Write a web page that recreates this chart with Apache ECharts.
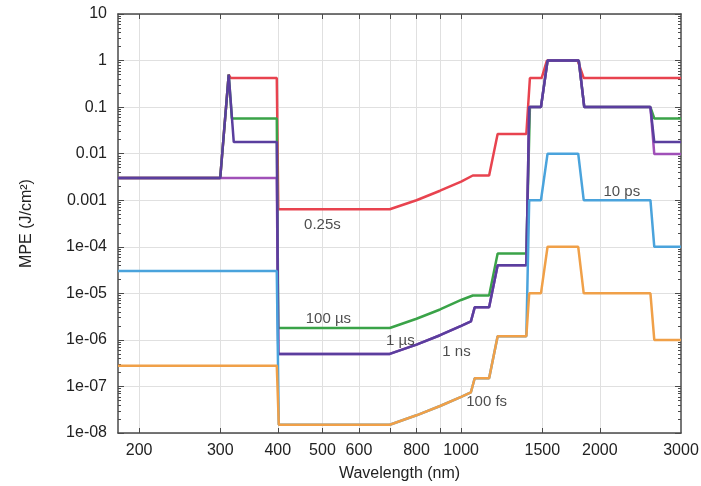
<!DOCTYPE html>
<html>
<head>
<meta charset="utf-8">
<script src="https://cdn.jsdelivr.net/npm/echarts@6/dist/echarts.min.js"></script>
<style>
  html, body { margin: 0; padding: 0; background: #fff; }
  #chart { width: 701px; height: 486px; }
</style>
</head>
<body>
<div id="chart"></div>
<script>
// MPE curves, [wavelength nm, J/cm2]
const mpe025s = [
  [180, 0.003], [300, 0.003], [313, 0.5], [316, 0.42], [398, 0.42], [401, 0.00064],
  [700, 0.00064], [800, 0.001], [900, 0.0016], [1000, 0.0025], [1060, 0.0034],
  [1150, 0.0034], [1200, 0.0265], [1385, 0.0265], [1410, 0.42], [1495, 0.42],
  [1535, 1], [1790, 1], [1845, 0.42], [3000, 0.42]
];
const mpe100us = [
  [180, 0.003], [300, 0.003], [313, 0.5], [318, 0.057], [398, 0.057], [401, 1.8e-6],
  [700, 1.8e-6], [800, 2.85e-6], [900, 4.5e-6], [1000, 7.2e-6], [1060, 9e-6],
  [1150, 9e-6], [1200, 7.2e-5], [1385, 7.2e-5], [1410, 0.1], [1490, 0.1],
  [1540, 1], [1800, 1], [1850, 0.1], [2575, 0.1], [2625, 0.057], [3000, 0.057]
];
const mpe1us = [
  [180, 0.003], [300, 0.003], [313, 0.5], [321, 0.0177], [398, 0.0177], [401, 5e-7],
  [700, 5e-7], [800, 7.9e-7], [900, 1.26e-6], [1000, 2e-6], [1050, 2.5e-6],
  [1070, 5e-6], [1150, 5e-6], [1200, 4e-5], [1385, 4e-5], [1405, 0.1], [1490, 0.1],
  [1540, 1], [1800, 1], [1850, 0.1], [2575, 0.1], [2625, 0.0177], [3000, 0.0177]
];
const mpe1ns = [
  [180, 0.003], [398, 0.003], [401, 5e-7],
  [700, 5e-7], [800, 7.9e-7], [900, 1.26e-6], [1000, 2e-6], [1050, 2.5e-6],
  [1070, 5e-6], [1150, 5e-6], [1200, 4e-5], [1385, 4e-5], [1405, 0.1], [1490, 0.1],
  [1540, 1], [1800, 1], [1850, 0.1], [2575, 0.1], [2625, 0.0098], [3000, 0.0098]
];
const mpe10ps = [
  [180, 3e-5], [398, 3e-5], [402, 1.5e-8], [700, 1.5e-8], [800, 2.4e-8], [900, 3.8e-8],
  [1000, 6e-8], [1050, 7.5e-8], [1070, 1.5e-7], [1150, 1.5e-7], [1200, 1.2e-6],
  [1385, 1.2e-6], [1405, 0.001], [1490, 0.001], [1540, 0.01], [1795, 0.01],
  [1845, 0.001], [2575, 0.001], [2625, 1e-4], [3000, 1e-4]
];
const mpe100fs = [
  [180, 2.8e-7], [398, 2.8e-7], [402, 1.5e-8], [700, 1.5e-8], [800, 2.4e-8], [900, 3.8e-8],
  [1000, 6e-8], [1050, 7.5e-8], [1070, 1.5e-7], [1150, 1.5e-7], [1200, 1.2e-6],
  [1385, 1.2e-6], [1405, 1e-5], [1490, 1e-5], [1540, 1e-4], [1795, 1e-4],
  [1845, 1e-5], [2575, 1e-5], [2625, 1e-6], [3000, 1e-6]
];

// curve annotations: [wavelength, value, text]
const curveLabels = [
  [500, 2.97e-4, '0.25s'],
  [515, 2.85e-6, '100 µs'],
  [738, 9.6e-7, '1 µs'],
  [977, 5.6e-7, '1 ns'],
  [1136, 4.7e-8, '100 fs'],
  [2232, 1.51e-3, '10 ps']
];

const xTicks = [200, 300, 400, 500, 600, 700, 800, 900, 1000, 1500, 2000];
const xLabels = [200, 300, 400, 500, 600, 800, 1000, 1500, 2000, 3000];
const yTicks = [1e-8, 1e-7, 1e-6, 1e-5, 1e-4, 0.001, 0.01, 0.1, 1, 10];
const yMinor = [];
for (let e = -8; e < 1; e++) {
  for (let m = 2; m <= 9; m++) yMinor.push(m * Math.pow(10, e));
}

const AXIS_COLOR = '#4a4a4a';
const TEXT_COLOR = '#222';
const FONT = 'Liberation Sans';

function yFmt(v) {
  const n = Math.round(Math.log10(v));
  if (n >= 0) return String(Math.pow(10, n));
  if (n >= -3) return Math.pow(10, n).toFixed(-n);
  return '1e-' + String(-n).padStart(2, '0');
}

const chart = echarts.init(document.getElementById('chart'));

const baseY = {
  type: 'log', logBase: 10, min: 1e-8, max: 10,
  axisLine: { show: true, lineStyle: { color: AXIS_COLOR, width: 1.5 } },
  axisLabel: { show: false },
  splitLine: { show: false }
};

function line(name, data, color) {
  return {
    name, type: 'line', data, xAxisIndex: 0, yAxisIndex: 0,
    symbol: 'none', lineStyle: { color, width: 2.5 }, itemStyle: { color },
    silent: true
  };
}

chart.setOption({
  animation: false,
  textStyle: { fontFamily: FONT },
  grid: { left: 118, right: 20, top: 14, bottom: 53, outerBoundsMode: 'none', containLabel: false },
  xAxis: [
    {
      type: 'log', logBase: 10, min: 180, max: 3000, position: 'bottom',
      name: 'Wavelength (nm)', nameLocation: 'middle', nameGap: 33,
      nameTextStyle: { fontSize: 16, color: TEXT_COLOR, fontFamily: FONT },
      axisLine: { lineStyle: { color: AXIS_COLOR, width: 1.5 } },
      axisTick: { inside: true, length: 5, customValues: xTicks, lineStyle: { color: AXIS_COLOR } },
      axisLabel: {
        customValues: xLabels, fontSize: 16, color: TEXT_COLOR, margin: 10,
        formatter: v => String(Math.round(v))
      },
      splitLine: { show: true, lineStyle: { color: '#e0e0e0', width: 1 } }
    },
    {
      type: 'log', logBase: 10, min: 180, max: 3000, position: 'top',
      axisLine: { lineStyle: { color: AXIS_COLOR, width: 1.5 } },
      axisTick: { inside: true, length: 5, customValues: xTicks, lineStyle: { color: AXIS_COLOR } },
      axisLabel: { show: false },
      splitLine: { show: false }
    }
  ],
  yAxis: [
    Object.assign({}, baseY, {
      position: 'left',
      name: 'MPE (J/cm²)', nameLocation: 'middle', nameGap: 83,
      nameTextStyle: { fontSize: 16, color: TEXT_COLOR, fontFamily: FONT },
      axisTick: { inside: true, length: 6, customValues: yTicks, lineStyle: { color: AXIS_COLOR } },
      axisLabel: { show: true, customValues: yTicks, formatter: yFmt, fontSize: 16, color: TEXT_COLOR, margin: 11 },
      splitLine: { show: true, lineStyle: { color: '#e0e0e0', width: 1 } }
    }),
    Object.assign({}, baseY, {
      position: 'right',
      axisTick: { inside: true, length: 6, customValues: yTicks, lineStyle: { color: AXIS_COLOR } }
    }),
    Object.assign({}, baseY, {
      position: 'left',
      axisLine: { show: false },
      axisTick: { inside: true, length: 3, customValues: yMinor, lineStyle: { color: AXIS_COLOR } }
    }),
    Object.assign({}, baseY, {
      position: 'right',
      axisLine: { show: false },
      axisTick: { inside: true, length: 3, customValues: yMinor, lineStyle: { color: AXIS_COLOR } }
    })
  ],
  series: [
    line('0.25s', mpe025s, '#e8434f'),
    line('100 µs', mpe100us, '#3aa348'),
    line('1 ns', mpe1ns, '#a050b8'),
    line('1 µs', mpe1us, '#5a3e9e'),
    line('10 ps', mpe10ps, '#4aa3dc'),
    line('100 fs', mpe100fs, '#f0a048'),
    {
      type: 'scatter', xAxisIndex: 0, yAxisIndex: 0, silent: true,
      data: curveLabels, symbolSize: 1, itemStyle: { color: 'rgba(0,0,0,0)' },
      label: {
        show: true, position: 'inside', formatter: p => p.value[2],
        fontSize: 15, color: TEXT_COLOR, fontFamily: FONT
      },
      z: 5
    }
  ]
});
</script>
</body>
</html>
